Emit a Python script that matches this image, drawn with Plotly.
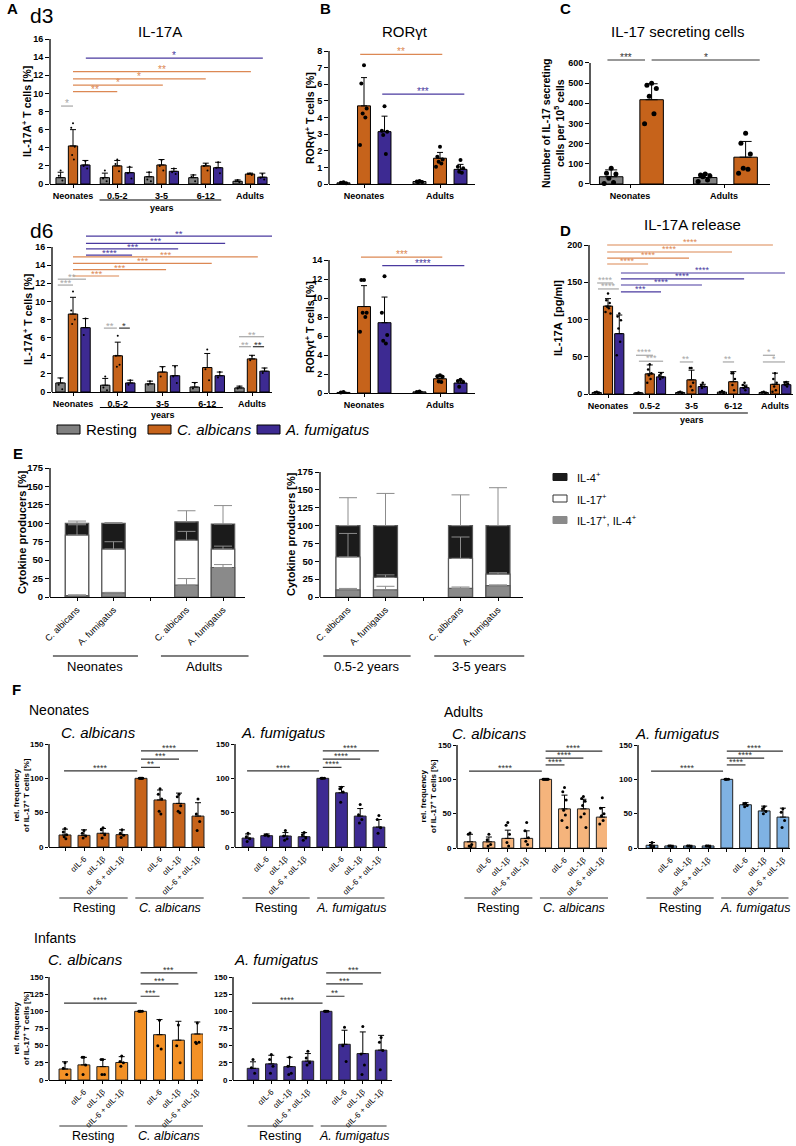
import plotly.graph_objects as go

W, H = 796, 1146
FONT = "Liberation Sans, Arial, Helvetica, sans-serif"

# ============================ DATA ============================
age_groups = ["Neonates", "0.5-2", "3-5", "6-12", "Adults"]
pair_groups = ["Neonates", "Adults"]

# ---- Panel A, d3 : IL-17A+ T cells [%]
d3_rest = [0.7, 0.7, 0.8, 0.7, 0.3]
d3_rest_sd = [0.6, 0.5, 0.5, 0.3, 0.15]
d3_ca = [4.2, 2.0, 2.1, 2.0, 1.1]
d3_ca_sd = [1.8, 0.6, 0.6, 0.3, 0.1]
d3_af = [2.1, 1.25, 1.4, 1.8, 0.75]
d3_af_sd = [0.5, 0.6, 0.3, 0.6, 0.45]
d3_rest_pts = [[1.5, 0.9, 0.4], [1.5, 0.6, 0.3], [1.3, 0.5, 0.3], [1.0, 0.8, 0.3], [0.45, 0.3, 0.2]]
d3_ca_pts = [[6.7, 6.2, 4.1, 3.2, 2.7], [2.7, 2.2, 1.4], [2.6, 2.0, 1.5], [2.2, 2.0, 1.5], [1.15, 1.1, 1.0]]
d3_af_pts = [[2.5, 2.0, 1.7], [1.9, 1.2, 0.6], [1.7, 1.3, 1.1], [2.4, 1.8, 1.2], [1.1, 0.7, 0.5]]

# ---- Panel A, d6
d6_rest = [1.0, 0.75, 0.9, 0.55, 0.45]
d6_rest_sd = [0.55, 0.75, 0.3, 0.5, 0.2]
d6_ca = [8.6, 4.0, 2.2, 2.7, 3.65]
d6_ca_sd = [1.85, 1.5, 0.6, 1.55, 0.4]
d6_af = [7.1, 1.0, 1.8, 1.8, 2.3]
d6_af_sd = [1.0, 0.3, 1.1, 0.4, 0.35]
d6_rest_pts = [[1.5, 0.8, 0.3], [1.7, 0.5, 0.2], [1.2, 0.8], [1.0, 0.4], [0.6, 0.4]]
d6_ca_pts = [[11.1, 9.0, 8.0, 7.5], [6.2, 4.0, 3.0, 2.8], [2.7, 1.7], [4.7, 2.5, 1.3], [4.0, 3.5]]
d6_af_pts = [[8.1, 6.3], [1.3, 0.8], [2.8, 1.7, 1.0], [2.2, 1.6], [2.6, 2.1]]

# ---- Panel B, top : RORgt+ T cells [%]
b1_rest = [0.07, 0.15]
b1_rest_sd = [0.03, 0.05]
b1_ca = [4.7, 1.55]
b1_ca_sd = [1.7, 0.35]
b1_af = [3.15, 0.88]
b1_af_sd = [0.93, 0.3]
b1_rest_pts = [[0.1, 0.08, 0.05], [0.18, 0.15, 0.12, 0.1]]
b1_ca_pts = [[7.14, 6.04, 4.54, 4.24, 4.0, 2.34], [2.24, 1.64, 1.48, 1.34, 1.24, 1.04]]
b1_af_pts = [[4.68, 3.2, 3.14, 2.94, 1.8], [1.44, 1.04, 0.94, 0.74, 0.68]]

# ---- Panel B, bottom
b2_rest = [0.06, 0.12]
b2_rest_sd = [0.03, 0.05]
b2_ca = [9.1, 1.5]
b2_ca_sd = [2.2, 0.37]
b2_af = [7.4, 1.05]
b2_af_sd = [2.7, 0.3]
b2_rest_pts = [[0.1, 0.05], [0.15, 0.1]]
b2_ca_pts = [[11.9, 11.9, 8.45, 8.45, 8.0, 6.45], [1.87, 1.76, 1.7, 1.2, 1.15]]
b2_af_pts = [[12.3, 8.45, 6.1, 5.5, 5.2], [1.4, 1.25, 1.15, 0.65]]

# ---- Panel C : IL-17 secreting cells per 10^5 cells
c_rest = [36, 32]
c_rest_sd = [34, 18]
c_ca = [418, 133]
c_ca_sd = [79, 78]
c_rest_pts = [[78, 53, 50, 28, 7, 3], [50, 45, 40, 36, 20, 12]]
c_ca_pts = [[500, 490, 474, 435, 348, 299], [252, 202, 149, 78, 73, 53]]

# ---- Panel D : IL-17A release [pg/ml]
d_rest = [2, 1.5, 2, 2.5, 2]
d_rest_sd = [1, 0.5, 0.8, 1, 0.8]
d_ca = [118, 27, 19, 16.5, 13]
d_ca_sd = [10, 12, 13, 13.5, 15]
d_af = [81, 23, 10, 8.5, 12.5]
d_af_sd = [25, 6, 3, 3.5, 4]
d_rest_pts = [[3, 2, 1], [2, 1], [3, 2, 1], [4, 2, 1], [3, 2, 1]]
d_ca_pts = [[135, 126, 122, 117, 115, 110, 108], [40, 33, 28, 25, 20, 15], [35, 35, 15, 10, 5], [28, 28, 20, 12, 5], [28, 20, 15, 10, 5, 3]]
d_af_pts = [[108, 104, 99, 88, 70, 52], [28, 25, 22, 20], [15, 12, 10, 8], [15, 12, 10, 8, 5], [16, 15, 14, 12, 10]]

# ---- Panel E : cytokine producers [%] (stack segments)
e_left_cats = ["C. albicans", "A. fumigatus", "C. albicans", "A. fumigatus"]
e_left_groups = ["Neonates", "Adults"]
e_left_dp = [2, 5.5, 16, 40]          # IL-17+, IL-4+
e_left_dp_sd = [1, 0.8, 9, 4]
e_left_il17 = [82, 59.5, 61, 25]      # IL-17+
e_left_il17_sd = [14, 10, 12, 4]
e_left_il4 = [16, 35, 25, 34]         # IL-4+
e_left_il4_sd = [3, 1, 15, 25]

e_right_cats = ["C. albicans", "A. fumigatus", "C. albicans", "A. fumigatus"]
e_right_groups = ["0.5-2 years", "3-5 years"]
e_right_dp = [10, 10, 12, 16]
e_right_dp_sd = [2, 5, 2, 1]
e_right_il17 = [46, 17.5, 42, 16]
e_right_il17_sd = [33, 3.5, 30, 2]
e_right_il4 = [44, 72.5, 46, 68]
e_right_il4_sd = [39, 45, 43, 53]

# ---- Panel F : rel. frequency of IL-17+ T cells [%]
f_ticks = ["", "αIL-6", "αIL-1β", "αIL-6 + αIL-1β", "", "αIL-6", "αIL-1β", "αIL-6 + αIL-1β"]

fn_ca = [17.5, 17, 20, 18, 100, 68.5, 63.5, 45]
fn_ca_sd = [8.5, 8, 7, 7, 0, 14.5, 15, 19.5]
fn_ca_pts = [[27, 22, 18, 15, 12], [24, 20, 16, 13], [28, 25, 18, 13], [25, 20, 17, 14],
             [100, 100, 100, 100, 100], [85, 77, 70, 52, 48], [77, 73, 60, 52, 50], [70, 48, 37, 24]]
fn_af = [13, 16.5, 16, 15, 100, 79, 45, 29]
fn_af_sd = [6, 2.5, 5, 6, 0, 9, 11, 11]
fn_af_pts = [[20, 15, 12, 8], [18, 17, 16], [24, 16, 12, 10], [21, 18, 13, 10],
             [100, 100, 100, 100], [87, 85, 80, 65], [62, 47, 40, 35], [46, 40, 28, 20]]

fa_ca = [9, 9, 14, 14, 100, 57, 57, 45]
fa_ca_sd = [11, 7, 12, 11, 0, 20, 14, 14]
fa_ca_pts = [[22, 20, 5, 3, 2], [20, 12, 5, 3], [37, 33, 20, 8, 3], [37, 25, 15, 10, 5],
             [100, 100, 100, 100, 100, 100, 100], [88, 82, 70, 55, 48, 40, 30], [75, 72, 68, 62, 50, 45, 30], [73, 58, 50, 47, 40, 35]]
fa_af = [4, 3, 3, 3, 100, 63, 54, 45]
fa_af_sd = [4, 1, 1, 1, 0, 3, 7, 13]
fa_af_pts = [[8, 4, 2, 1], [3, 3, 2], [3, 3, 2], [3, 3, 2],
             [100, 100, 100, 100], [65, 64, 62, 60], [60, 57, 53, 50], [57, 52, 40, 30]]

fi_ca = [16, 22, 19.5, 25.5, 100, 66, 58, 67]
fi_ca_sd = [10.5, 11, 10.5, 8.5, 0, 22, 27.5, 17.5]
fi_ca_pts = [[25, 17, 8], [33, 33, 22, 8], [30, 30, 8, 8], [35, 27, 25, 20],
             [100, 100, 100, 100], [87, 50, 45], [80, 50, 25], [83, 55, 55, 53]]
fi_af = [17, 23.5, 19.5, 27.5, 100, 52, 38.5, 43.5]
fi_af_sd = [9.5, 12.5, 13.5, 11, 0, 20.5, 31.5, 21.5]
fi_af_pts = [[30, 18, 10], [37, 30, 20, 10], [33, 20, 10, 8], [42, 32, 25, 22],
             [100, 100, 100, 100], [77, 50, 27], [78, 38, 22, 8], [62, 55, 43, 15]]

# ---- significance brackets (from, to, level, stars, colour)
sig_d3 = [(-0.27, 0.0, 8.6, "*", "g"), (0, 1.0, 10.2, "**", "o"), (0, 2.03, 10.9, "*", "o"),
          (0, 3.0, 11.6, "*", "o"), (0, 4.02, 12.4, "**", "o"), (0.29, 4.29, 13.9, "*", "p")]
sig_d6 = [(0.29, 4.45, 17.2, "**", "p"), (0.29, 3.4, 16.4, "***", "p"), (0.29, 2.35, 15.8, "***", "p"),
          (0.29, 1.32, 15.1, "****", "p"), (0, 4.13, 14.9, "***", "o"), (0, 3.1, 14.2, "***", "o"),
          (0, 2.08, 13.5, "***", "o"), (0, 1.03, 12.8, "***", "o"), (-0.34, 0.29, 12.45, "**", "g"),
          (-0.34, 0.0, 11.8, "***", "g"), (0.69, 0.98, 7.05, "**", "g"), (1.03, 1.27, 7.05, "*", "k"),
          (3.71, 4.27, 6.1, "**", "g"), (3.71, 3.98, 5.0, "**", "g"), (4.02, 4.27, 5.0, "**", "k")]
sig_b1 = [(-0.05, 1.03, 7.8, "**", "o"), (0.24, 1.32, 5.4, "***", "p")]
sig_b2 = [(-0.04, 1.03, 14.3, "***", "o"), (0.24, 1.32, 13.4, "****", "p")]
sig_c = [(-0.24, 0.16, 615, "***", "k"), (0.23, 1.38, 615, "*", "k")]
sig_d = [(-0.02, 3.95, 200, "****", "o"), (-0.02, 2.97, 190.6, "****", "o"), (-0.02, 1.94, 182.5, "****", "o"),
         (-0.02, 0.96, 174.5, "****", "o"), (0.31, 4.24, 162.4, "****", "p"), (0.31, 3.26, 154.4, "****", "p"),
         (0.31, 2.25, 146.3, "****", "p"), (0.31, 1.27, 137, "***", "p"), (-0.26, 0.12, 149, "****", "g"),
         (-0.24, 0.26, 141, "****", "g"), (0.67, 1.08, 52, "****", "g"), (0.74, 1.32, 44, "***", "g"),
         (1.72, 2.04, 43, "**", "g"), (2.75, 3.02, 43, "**", "g"), (3.71, 4.0, 52, "*", "g"), (3.71, 4.24, 43, "*", "g")]
sig_fn_ca = [(-0.05, 3.8, 111, "****"), (4.0, 5.0, 116, "**"), (4.0, 6.0, 128, "***"), (4.0, 7.0, 140, "****")]
sig_fn_af = [(-0.05, 3.8, 111, "****"), (4.0, 5.0, 116, "****"), (4.0, 6.0, 128, "****"), (4.0, 7.0, 140, "****")]
sig_fa_ca = [(-0.05, 3.8, 112, "****"), (4.0, 5.0, 121, "****"), (4.0, 6.0, 131, "****"), (4.0, 7.0, 141, "****")]
sig_fa_af = [(-0.05, 3.8, 112, "****"), (4.0, 5.0, 121, "****"), (4.0, 6.0, 131, "****"), (4.0, 7.0, 141, "****")]
sig_fi_ca = [(-0.05, 3.8, 112, "****"), (4.0, 5.0, 122, "***"), (4.0, 6.0, 140, "***"), (4.0, 7.0, 156, "***")]
sig_fi_af = [(-0.05, 3.8, 112, "****"), (4.0, 5.0, 122, "**"), (4.0, 6.0, 140, "***"), (4.0, 7.0, 156, "***")]

# ============================ STYLE ============================
C_REST = "#808080"
C_CA = "#c6631b"
C_AF = "#3d2a92"
C_CA_AD = "#f5b47c"
C_AF_AD = "#7fb2e3"
C_CA_INF = "#f39126"
C_AF_INF = "#3f2d94"
SIGC = {"g": "#a6a6a6", "o": "#dc8853", "p": "#4a3a9f", "k": "#333333"}

fig = go.Figure()
AX = {}


def names(i):
    s = "" if i == 1 else str(i)
    return "x" + s, "y" + s, "xaxis" + s, "yaxis" + s


def setup(i, xl, xr, c0, sp, y0, yt, tmax, rtop, yticks, xvals, xtext,
          xangle=0, xfs=9, yfs=9, xbold=True, xticklen=3, yticklen=4):
    xn, yn, xa, ya = names(i)
    xrng = [(xl - c0) / sp, (xr - c0) / sp]
    ptop = y0 - rtop * (y0 - yt) / tmax
    AX[i] = dict(xl=xl, xr=xr, xrng=xrng)
    fig.update_layout({
        xa: dict(domain=[xl / W, xr / W], range=xrng, anchor=yn, showline=True, linecolor="black",
                 linewidth=1.3, ticks="outside", ticklen=xticklen, tickwidth=1.2, tickcolor="black",
                 tickmode="array", tickvals=xvals, ticktext=xtext, tickangle=xangle,
                 tickfont=dict(family=FONT, size=xfs, color="black", weight="bold" if xbold else "normal"),
                 showgrid=False, zeroline=False),
        ya: dict(domain=[1 - y0 / H, 1 - ptop / H], range=[0, rtop], anchor=xn, showline=False,
                 ticks="outside", ticklen=yticklen, tickwidth=1.2, tickcolor="black", tickmode="array",
                 tickvals=yticks, tickfont=dict(family=FONT, size=yfs, color="black", weight="bold"),
                 showgrid=False, zeroline=False),
    })
    fig.add_shape(type="line", xref=xn + " domain", yref=yn, x0=0, x1=0, y0=0, y1=tmax,
                  line=dict(color="black", width=1.3))


def xp(i, xv):
    a = AX[i]
    r = a["xrng"]
    return (a["xl"] + (xv - r[0]) / (r[1] - r[0]) * (a["xr"] - a["xl"])) / W


def yp(pxv):
    return 1 - pxv / H


def bars(i, xs, ys, sd, color, width, line_color="black", err_color="black", cap=3, lw=1):
    xn, yn, _, _ = names(i)
    fig.add_trace(go.Bar(x=xs, y=ys, width=width,
                         marker=dict(color=color, line=dict(color=line_color, width=lw)),
                         error_y=dict(type="data", array=sd, arrayminus=[0] * len(sd), symmetric=False,
                                      color=err_color, thickness=1, width=cap),
                         xaxis=xn, yaxis=yn, showlegend=False, hoverinfo="skip"))


PATTERN = [0, -1, 1, -0.5, 0.5, -1.5, 1.5, 0.25]


def dots(i, xs, pts, size, spread):
    xn, yn, _, _ = names(i)
    px, py = [], []
    for x, p in zip(xs, pts):
        for k, v in enumerate(p):
            px.append(x + PATTERN[k % len(PATTERN)] * spread)
            py.append(v)
    fig.add_trace(go.Scatter(x=px, y=py, mode="markers", marker=dict(color="black", size=size),
                             xaxis=xn, yaxis=yn, showlegend=False, hoverinfo="skip", cliponaxis=False))


def sig(i, x0, x1, y, stars, col, fs=10, ysh=-5):
    xn, yn, _, _ = names(i)
    fig.add_shape(type="line", xref=xn, yref=yn, x0=x0, x1=x1, y0=y, y1=y, line=dict(color=col, width=1.2))
    fig.add_annotation(xref=xn, yref=yn, x=(x0 + x1) / 2, y=y, text=stars, showarrow=False,
                       yanchor="bottom", yshift=ysh, font=dict(family=FONT, size=fs, color=col))


def txt(x, y, s, size, bold=False, italic=False, xanchor="center", angle=0, color="black"):
    fig.add_annotation(xref="paper", yref="paper", x=x / W, y=1 - y / H, text=s, showarrow=False,
                       xanchor=xanchor, yanchor="middle", textangle=angle,
                       font=dict(family=FONT, size=size, color=color,
                                 weight="bold" if bold else "normal",
                                 style="italic" if italic else "normal"))


def hline(x0p, x1p, ypx, color="black", width=1.2):
    fig.add_shape(type="line", xref="paper", yref="paper", x0=x0p, x1=x1p, y0=yp(ypx), y1=yp(ypx),
                  line=dict(color=color, width=width))


def grouped(i, n, series, off, width, dsize, dspread, cap=3):
    for (vals, sd, pts, col), o in zip(series, off):
        xs = [g + o for g in range(n)]
        bars(i, xs, vals, sd, col, width, cap=cap)
        dots(i, xs, pts, dsize, dspread)


# ============================ PANEL A d3 ============================
setup(1, 50, 270, 73, 44.25, 184, 39, 16, 16, list(range(0, 17, 2)), list(range(5)), age_groups)
grouped(1, 5, [(d3_rest, d3_rest_sd, d3_rest_pts, C_REST), (d3_ca, d3_ca_sd, d3_ca_pts, C_CA),
               (d3_af, d3_af_sd, d3_af_pts, C_AF)], [-0.28, 0, 0.28], 0.21, 2, 0.04)
for s in sig_d3:
    sig(1, s[0], s[1], s[2], s[3], SIGC[s[4]])
hline(xp(1, 0.6), xp(1, 3.35), 200)
txt(xp(1, 2.0) * W, 208, "years", 9, bold=True)

# ============================ PANEL B top ============================
setup(2, 329, 475, 364, 76, 184, 51, 8, 8, list(range(0, 9)), [0, 1], pair_groups)
grouped(2, 2, [(b1_rest, b1_rest_sd, b1_rest_pts, C_REST), (b1_ca, b1_ca_sd, b1_ca_pts, C_CA),
               (b1_af, b1_af_sd, b1_af_pts, C_AF)], [-0.27, 0, 0.27], 0.17, 4, 0.035)
for s in sig_b1:
    sig(2, s[0], s[1], s[2], s[3], SIGC[s[4]])

# ============================ PANEL C ============================
setup(3, 590, 770, 630, 94, 184, 63, 600, 625, list(range(0, 601, 100)), [0, 1], pair_groups)
grouped(3, 2, [(c_rest, c_rest_sd, c_rest_pts, C_REST), (c_ca, c_ca_sd, c_ca_pts, C_CA)],
        [-0.2, 0.23], 0.25, 5, 0.05, cap=6)
for s in sig_c:
    sig(3, s[0], s[1], s[2], s[3], SIGC[s[4]])

# ============================ PANEL A d6 ============================
setup(4, 52, 272, 73, 44.75, 392, 247, 16, 17.6, list(range(0, 17, 2)), list(range(5)), age_groups)
grouped(4, 5, [(d6_rest, d6_rest_sd, d6_rest_pts, C_REST), (d6_ca, d6_ca_sd, d6_ca_pts, C_CA),
               (d6_af, d6_af_sd, d6_af_pts, C_AF)], [-0.28, 0, 0.28], 0.21, 2, 0.04)
for s in sig_d6:
    sig(4, s[0], s[1], s[2], s[3], SIGC[s[4]], fs=9.5)
hline(xp(4, 0.6), xp(4, 3.35), 407.5)
txt(xp(4, 2.0) * W, 415, "years", 9, bold=True)

# ============================ PANEL B bottom ============================
setup(5, 329, 475, 364, 76, 393, 260, 14, 14.6, list(range(0, 15, 2)), [0, 1], pair_groups)
grouped(5, 2, [(b2_rest, b2_rest_sd, b2_rest_pts, C_REST), (b2_ca, b2_ca_sd, b2_ca_pts, C_CA),
               (b2_af, b2_af_sd, b2_af_pts, C_AF)], [-0.27, 0, 0.27], 0.17, 4, 0.035)
for s in sig_b2:
    sig(5, s[0], s[1], s[2], s[3], SIGC[s[4]])

# ============================ PANEL D ============================
setup(6, 589, 793, 608, 41.75, 394, 245, 200, 206, [0, 50, 100, 150, 200], list(range(5)), age_groups)
grouped(6, 5, [(d_rest, d_rest_sd, d_rest_pts, C_REST), (d_ca, d_ca_sd, d_ca_pts, C_CA),
               (d_af, d_af_sd, d_af_pts, C_AF)], [-0.27, 0, 0.27], 0.22, 2.5, 0.04)
for s in sig_d:
    sig(6, s[0], s[1], s[2], s[3], SIGC[s[4]], fs=9, ysh=-4)
hline(xp(6, 0.6), xp(6, 3.35), 413)
txt(xp(6, 2.0) * W, 420, "years", 9, bold=True)

# ============================ PANEL E ============================
E_POS = [0, 1, 3, 4]
E_LINE = "#5a5a5a"
E_ERR = "#8c8c8c"


def e_panel(i, dp, dp_sd, il17, il17_sd, il4, il4_sd):
    top17 = [a + b for a, b in zip(dp, il17)]
    top4 = [a + b for a, b in zip(top17, il4)]
    bars(i, E_POS, top4, il4_sd, "#1b1b1b", 0.64, line_color=E_LINE, err_color=E_ERR, cap=9, lw=1.2)
    bars(i, E_POS, top17, il17_sd, "white", 0.64, line_color=E_LINE, err_color=E_ERR, cap=9, lw=1.2)
    bars(i, E_POS, dp, dp_sd, "#8a8a8a", 0.64, line_color=E_LINE, err_color=E_ERR, cap=9, lw=1.2)


setup(7, 50, 245, 77, 36.5, 597, 468, 175, 175, list(range(0, 176, 25)), [0, 1, 2, 3, 4],
      [e_left_cats[0], e_left_cats[1], "", e_left_cats[2], e_left_cats[3]],
      xangle=-45, xfs=9, yfs=9.5, xbold=False)
e_panel(7, e_left_dp, e_left_dp_sd, e_left_il17, e_left_il17_sd, e_left_il4, e_left_il4_sd)
setup(8, 320, 523, 348, 37.5, 597, 472, 175, 175, list(range(0, 176, 25)), [0, 1, 2, 3, 4],
      [e_right_cats[0], e_right_cats[1], "", e_right_cats[2], e_right_cats[3]],
      xangle=-45, xfs=9, yfs=9.5, xbold=False)
e_panel(8, e_right_dp, e_right_dp_sd, e_right_il17, e_right_il17_sd, e_right_il4, e_right_il4_sd)

for i, groups in ((7, e_left_groups), (8, e_right_groups)):
    for g, (a, b) in zip(groups, ((-0.66, 1.67), (2.3, 4.7))):
        hline(xp(i, a), xp(i, b), 656, color="#555555", width=1.3)
        txt((xp(i, a) + xp(i, b)) / 2 * W, 666, g, 13)

# E legend
for k, (lab, col) in enumerate((("IL-4<sup>+</sup>", "#1b1b1b"), ("IL-17<sup>+</sup>", "white"),
                                 ("IL-17<sup>+</sup>, IL-4<sup>+</sup>", "#8a8a8a"))):
    yc = 477 + k * 21.5
    fig.add_shape(type="rect", xref="paper", yref="paper", x0=553 / W, x1=567 / W, y0=yp(yc + 3.5),
                  y1=yp(yc - 3.5), fillcolor=col, line=dict(color="#333333" if col == "white" else col, width=1))
    txt(575, yc, lab, 11, xanchor="left")

# ============================ PANEL F ============================
F_IDX = list(range(8))


def f_panel(i, vals, sd, pts, color, sigs, group2, gy, line_col="black"):
    bars(i, F_IDX, vals, sd, color, 0.63, line_color="#222222", cap=3)
    dots(i, F_IDX, pts, 3, 0.09)
    for s in sigs:
        sig(i, s[0], s[1], s[2], s[3], "#333333", fs=9, ysh=-4)
    for lab, (a, b), it in (("Resting", (-0.3, 3.3), False), (group2, (3.7, 7.3), True)):
        hline(xp(i, a), xp(i, b), gy, color="#333333", width=1.2)
        txt((xp(i, a) + xp(i, b)) / 2 * W, gy + 9.5, lab, 12.5, italic=it)


f_common = dict(xangle=-45, xfs=8, yfs=8, xbold=False, yticklen=3)
setup(9, 49, 205, 65, 19, 847, 744, 150, 150, [0, 50, 100, 150], F_IDX, f_ticks, **f_common)
f_panel(9, fn_ca, fn_ca_sd, fn_ca_pts, C_CA, sig_fn_ca, "C. albicans", 898)
setup(10, 235, 387, 248, 18.7, 847, 744, 150, 150, [0, 50, 100, 150], F_IDX, f_ticks, **f_common)
f_panel(10, fn_af, fn_af_sd, fn_af_pts, C_AF, sig_fn_af, "A. fumigatus", 898)
setup(11, 457, 607, 470, 18.9, 848, 745, 150, 150, [0, 50, 100, 150], F_IDX, f_ticks, **f_common)
f_panel(11, fa_ca, fa_ca_sd, fa_ca_pts, C_CA_AD, sig_fa_ca, "C. albicans", 898)
setup(12, 638, 790, 652, 18.7, 848, 745, 150, 150, [0, 50, 100, 150], F_IDX, f_ticks, **f_common)
f_panel(12, fa_af, fa_af_sd, fa_af_pts, C_AF_AD, sig_fa_af, "A. fumigatus", 898)
setup(13, 49, 203, 65, 18.9, 1080, 977, 150, 162, list(range(0, 151, 25)), F_IDX, f_ticks, **f_common)
f_panel(13, fi_ca, fi_ca_sd, fi_ca_pts, C_CA_INF, sig_fi_ca, "C. albicans", 1126)
setup(14, 233, 392, 253, 18.3, 1080, 977, 150, 162, list(range(0, 151, 25)), F_IDX, f_ticks, **f_common)
f_panel(14, fi_af, fi_af_sd, fi_af_pts, C_AF_INF, sig_fi_af, "A. fumigatus", 1126)

# ============================ TEXT ============================
txt(5, 8, "A", 15, bold=True, xanchor="left")
txt(28, 16, "d3", 21, xanchor="left")
txt(160, 32, "IL-17A", 15)
txt(318, 8, "B", 15, bold=True, xanchor="left")
txt(405, 32, "RORγt", 15)
txt(558, 8, "C", 15, bold=True, xanchor="left")
txt(677, 32, "IL-17 secreting cells", 15)
txt(28, 231, "d6", 21, xanchor="left")
txt(558, 231, "D", 15, bold=True, xanchor="left")
txt(692, 224, "IL-17A release", 15)
txt(11, 453, "E", 15, bold=True, xanchor="left")
txt(10, 689, "F", 15, bold=True, xanchor="left")

# y-axis titles
txt(27, 112, "IL-17A<sup>+</sup> T cells [%]", 10.5, bold=True, angle=-90)
txt(27, 320, "IL-17A<sup>+</sup> T cells [%]", 10.5, bold=True, angle=-90)
txt(309, 118, "RORγt<sup>+</sup> T cells [%]", 10.5, bold=True, angle=-90)
txt(309, 327, "RORγt<sup>+</sup> T cells [%]", 10.5, bold=True, angle=-90)
txt(553, 123, "Number of IL-17 secreting<br>cells per 10<sup>5</sup> cells", 10.5, bold=True, angle=-90)
txt(558, 318, "IL-17A  [pg/ml]", 11, bold=True, angle=-90)
txt(22, 532, "Cytokine producers [%]", 11, bold=True, angle=-90)
txt(291, 534, "Cytokine producers [%]", 11, bold=True, angle=-90)
txt(21, 795, "rel. frequency<br>of IL-17<sup>+</sup> T cells [%]", 8, bold=True, angle=-90)
txt(428, 796, "rel. frequency<br>of IL-17<sup>+</sup> T cells [%]", 8, bold=True, angle=-90)
txt(21, 1028, "rel. frequency<br>of IL-17<sup>+</sup> T cells [%]", 8, bold=True, angle=-90)

# F sub-headers
txt(27, 710, "Neonates", 14, xanchor="left")
txt(98, 732, "C. albicans", 15, italic=True)
txt(283, 732, "A. fumigatus", 15, italic=True)
txt(442, 712, "Adults", 14, xanchor="left")
txt(490, 733, "C. albicans", 15, italic=True)
txt(677, 733, "A. fumigatus", 15, italic=True)
txt(32, 938, "Infants", 14, xanchor="left")
txt(85, 959, "C. albicans", 15, italic=True)
txt(276, 959, "A. fumigatus", 15, italic=True)

# main legend
for lab, col, x0, x1, tx, it in (("Resting", C_REST, 57, 80, 84, False),
                                  ("C. albicans", C_CA, 148, 171, 175, True),
                                  ("A. fumigatus", C_AF, 257, 280, 283, True)):
    fig.add_shape(type="rect", xref="paper", yref="paper", x0=x0 / W, x1=x1 / W, y0=yp(434), y1=yp(425),
                  fillcolor=col, line=dict(color="black", width=1))
    txt(tx, 429.5, lab, 15, italic=it, xanchor="left")

fig.update_layout(width=W, height=H, autosize=False, margin=dict(l=0, r=0, t=0, b=0, autoexpand=False),
                  paper_bgcolor="white", plot_bgcolor="white", barmode="overlay",
                  font=dict(family=FONT, color="black"), showlegend=False)
fig.write_html("out.html", config={"displayModeBar": False},
               post_script="document.body.style.margin='0';document.body.style.overflow='hidden';")
